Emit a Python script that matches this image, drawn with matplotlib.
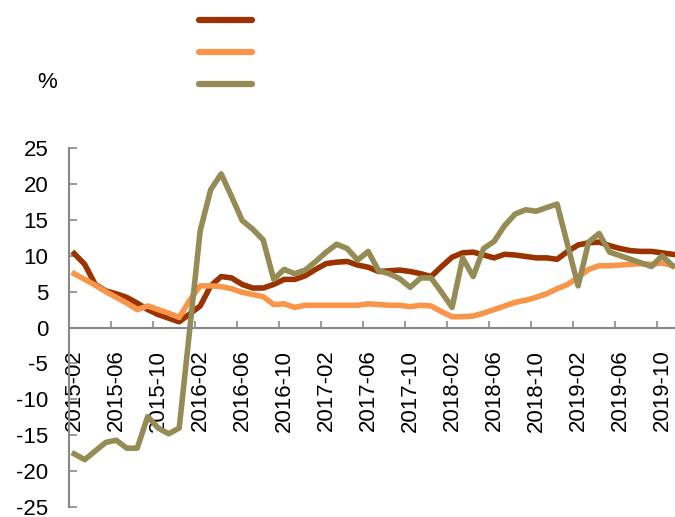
import matplotlib
matplotlib.use('Agg')
import matplotlib.pyplot as plt
from matplotlib.lines import Line2D
import numpy as np
import pandas as pd

plt.rcParams['font.family'] = ['Liberation Sans', 'DejaVu Sans']

months = pd.period_range('2015-02', '2019-11', freq='M').strftime('%Y-%m').tolist()

red = [10.3, 8.8, 6.0, 5.1, 4.7, 4.2, 3.4, 2.5, 1.8, 1.3, 0.8, 1.9,
       3.0, 5.8, 7.1, 6.9, 6.0, 5.5, 5.5, 6.0, 6.7, 6.7, 7.2, 8.1,
       8.9, 9.1, 9.2, 8.7, 8.4, 7.8, 7.9, 8.0, 7.8, 7.5, 7.1, 8.5,
       9.8, 10.4, 10.5, 10.1, 9.7, 10.2, 10.1, 9.9, 9.7, 9.7, 9.5, 10.6,
       11.5, 11.8, 11.9, 11.4, 11.0, 10.7, 10.6, 10.6, 10.4, 10.2]
orange = [7.5, 6.7, 5.9, 5.0, 4.2, 3.4, 2.5, 3.0, 2.5, 2.0, 1.4, 3.8,
          5.8, 5.8, 5.7, 5.4, 4.9, 4.6, 4.3, 3.2, 3.3, 2.8, 3.1, 3.1,
          3.1, 3.1, 3.1, 3.1, 3.3, 3.2, 3.1, 3.1, 2.9, 3.1, 3.0, 2.2,
          1.5, 1.5, 1.6, 2.0, 2.5, 3.0, 3.5, 3.8, 4.2, 4.7, 5.4, 6.0,
          7.0, 8.1, 8.6, 8.6, 8.7, 8.8, 8.9, 8.8, 9.0, 8.6]
olive = [-17.6, -18.4, -17.2, -16.0, -15.7, -16.8, -16.8, -12.4, -14.0, -14.8, -14.0, -0.3,
         13.5, 19.2, 21.4, 18.2, 14.9, 13.7, 12.2, 6.7, 8.1, 7.5, 8.0, 9.2,
         10.5, 11.6, 11.0, 9.4, 10.6, 7.9, 7.5, 6.8, 5.6, 6.9, 6.9, 4.9,
         2.8, 9.7, 7.1, 11.0, 12.0, 14.2, 15.8, 16.4, 16.2, 16.7, 17.2, 11.5,
         5.8, 11.9, 13.1, 10.5, 10.0, 9.5, 9.0, 8.5, 10.0, 8.6]

colors = ['#9A3300', '#F99548', '#958B55']
yticks = list(range(-25, 30, 5))

fig = plt.figure(figsize=(6.75, 5.17), dpi=100)
ax = fig.add_axes([0.1022, 0.0193, 0.902, 0.6944])

x = np.arange(len(months))
for series, c in zip([red, orange, olive], colors):
    ax.plot(x, series, color=c, lw=4.0, solid_joinstyle='round')

ax.set_xlim(-0.5, 57.5)
ax.set_ylim(-25, 25)
ax.set_yticks(yticks)
ax.set_yticklabels([str(v) for v in yticks])

ax.set_xticks(x[::4])
ax.set_xticklabels(months[::4])
ax.set_xticks(np.arange(-0.5, 58, 4), minor=True)
ax.tick_params(axis='x', which='major', length=0, pad=16, labelsize=16, labelrotation=90)
ax.tick_params(axis='x', which='minor', direction='in', length=5, color='#888888', width=1.2)
ax.tick_params(axis='y', direction='in', length=6, color='#888888', width=1.2, pad=15, labelsize=16)
plt.setp(ax.get_xticklabels(), va='top', ha='center', rotation_mode='default')

ax.spines['bottom'].set_position(('data', 0))
for s in ['top', 'right']:
    ax.spines[s].set_visible(False)
for s in ['left', 'bottom']:
    ax.spines[s].set_color('#888888')
    ax.spines[s].set_linewidth(1.5)

fig.text(47 / 675, 1 - 83 / 517, '%', fontsize=16, ha='center', va='center')

# legend marks without labels
for yy, c in zip([20, 52, 84], colors):
    fig.add_artist(Line2D([199 / 675, 252 / 675], [1 - yy / 517, 1 - yy / 517],
                          color=c, lw=4.5, solid_capstyle='round'))

fig.savefig('out.png', dpi=100)
